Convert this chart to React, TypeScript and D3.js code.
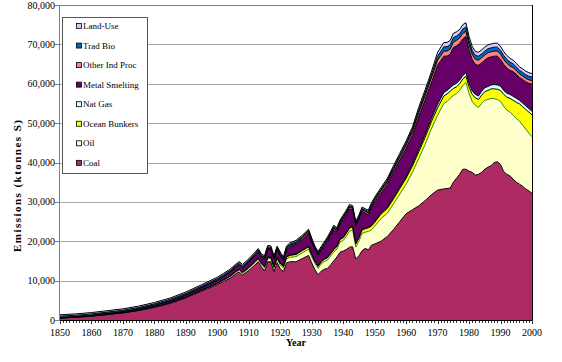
import * as d3 from "d3";

// years (denser where the curve is jagged)
const years = [
  1850, 1855, 1860, 1865, 1870, 1875, 1880, 1885, 1890, 1895,
  1900, 1902, 1904, 1906, 1907, 1908, 1910, 1912, 1913, 1914,
  1915, 1916, 1917, 1918, 1919, 1920, 1921, 1922, 1923, 1925,
  1927, 1929, 1930, 1931, 1932, 1933, 1934, 1935, 1936, 1937,
  1938, 1939, 1940, 1941, 1942, 1943, 1944, 1945, 1946, 1947,
  1948, 1949, 1950, 1952, 1954, 1956, 1958, 1960, 1962, 1964,
  1966, 1968, 1970, 1972, 1973, 1974, 1975, 1976, 1977, 1978,
  1979, 1980, 1981, 1982, 1983, 1984, 1985, 1986, 1987, 1988,
  1989, 1990, 1991, 1992, 1993, 1994, 1995, 1996, 1997, 1998,
  1999, 2000,
];

const coal = [
  500, 700, 1000, 1400, 1800, 2400, 3200, 4200, 5600, 7300,
  9000, 9800, 10600, 11800, 12200, 11400, 12600, 14000, 14800, 13500,
  12500, 14800, 14800, 12300, 14600, 13000, 12300, 14500, 14800, 14800,
  15600, 16400, 14500, 12800, 11500, 12400, 12900, 13100, 14000, 15000,
  16000, 17200, 17500, 17900, 18500, 18600, 15500, 16300, 17600, 18200,
  17800, 19000, 19300, 20000, 21200, 23000, 25000, 27000, 28000, 29000,
  30300, 31800, 33000, 33300, 33400, 33500, 35000, 36000, 37000, 38300,
  38300, 37800, 37500, 36800, 37000, 37500, 38300, 38800, 39200, 40000,
  40200, 39500, 37700, 37000, 36600, 35800, 35000, 34500, 34000, 33300,
  32800, 32200,
];

const oil = [
  0, 0, 0, 10, 20, 40, 60, 90, 120, 180,
  250, 300, 350, 400, 430, 450, 500, 560, 600, 620,
  700, 750, 780, 800, 850, 900, 900, 1000, 1100, 1300,
  1450, 1600, 1500, 1550, 1600, 1800, 1950, 2100, 2200, 2200,
  2000, 2600, 2700, 3400, 4000, 4300, 3000, 3700, 4400, 4100,
  4700, 3900, 4500, 5800, 5900, 6500, 7000, 7500, 9500, 12000,
  14200, 16700, 19000, 21700, 22100, 22800, 22000, 21500, 21300, 21200,
  22000, 19700, 18000, 17700, 17000, 17500, 17500, 17200, 17100, 16200,
  15800, 16000, 16600, 16300, 16200, 16200, 16200, 16000, 15500, 15200,
  14700, 14300,
];

const oceanBunkers = [
  0, 0, 0, 0, 10, 20, 30, 40, 60, 80,
  100, 130, 160, 200, 210, 220, 250, 280, 300, 310,
  330, 350, 370, 380, 400, 450, 400, 480, 520, 550,
  580, 600, 580, 540, 500, 520, 560, 600, 630, 650,
  650, 680, 700, 750, 800, 800, 800, 850, 850, 880,
  900, 950, 1000, 1100, 1200, 1300, 1400, 1500, 1600, 1700,
  1800, 1800, 1900, 1900, 1900, 1800, 1800, 1700, 1700, 1700,
  1600, 1700, 1800, 1900, 2000, 2100, 2200, 2300, 2400, 2500,
  2600, 2800, 3000, 3300, 3500, 3800, 4100, 4400, 4700, 5000,
  5300, 5600,
];

const natGas = [
  0, 0, 0, 0, 0, 0, 0, 0, 0, 5,
  10, 15, 20, 25, 25, 25, 30, 35, 40, 40,
  45, 50, 50, 50, 55, 60, 60, 65, 70, 80,
  90, 100, 100, 100, 100, 100, 110, 110, 115, 120,
  120, 130, 150, 150, 150, 150, 150, 150, 160, 170,
  180, 190, 200, 220, 250, 300, 350, 400, 500, 600,
  700, 800, 900, 900, 900, 900, 900, 900, 900, 900,
  900, 900, 900, 900, 900, 1000, 1000, 1000, 1000, 1100,
  1100, 1100, 1000, 1000, 1000, 1000, 1000, 900, 900, 900,
  900, 900,
];

const metalSmelting = [
  100, 120, 150, 200, 250, 320, 400, 480, 550, 620,
  700, 800, 900, 1000, 1100, 1100, 1300, 1450, 1500, 1400,
  1800, 2000, 1900, 1800, 1900, 1900, 1400, 1800, 2100, 2500,
  2800, 3300, 3100, 2800, 2700, 2800, 3300, 4100, 4500, 5000,
  3600, 3700, 4500, 4600, 4800, 4100, 4500, 4600, 4600, 3800,
  3200, 4500, 4900, 5100, 5900, 6500, 6900, 7200, 7400, 8300,
  8800, 9100, 9900, 9200, 8700, 8500, 9500, 9500, 9300, 9300,
  9200, 8500, 8000, 7600, 7800, 7200, 7000, 7300, 7100, 7200,
  7300, 6800, 6600, 6400, 6100, 6300, 6100, 5800, 6000, 6100,
  6400, 6900,
];

const otherIndProc = [
  30, 35, 40, 45, 50, 55, 60, 70, 80, 90,
  100, 120, 140, 160, 170, 170, 200, 210, 220, 220,
  240, 250, 250, 250, 250, 250, 230, 260, 280, 300,
  320, 350, 340, 320, 300, 320, 340, 360, 380, 400,
  380, 390, 400, 400, 400, 400, 350, 350, 380, 400,
  420, 450, 500, 550, 600, 650, 700, 800, 900, 1000,
  1100, 1200, 1300, 1300, 1300, 1300, 1400, 1400, 1400, 1400,
  1300, 1300, 1300, 1300, 1300, 1300, 1300, 1300, 1300, 1300,
  1300, 1300, 1300, 1200, 1100, 1000, 1000, 900, 900, 900,
  900, 900,
];

const tradBio = [
  350, 350, 350, 350, 350, 350, 350, 350, 350, 350,
  350, 350, 350, 350, 350, 350, 350, 350, 350, 350,
  350, 350, 350, 350, 350, 350, 350, 350, 350, 350,
  350, 350, 350, 350, 350, 350, 350, 350, 350, 350,
  350, 350, 350, 350, 350, 350, 350, 350, 350, 350,
  350, 380, 400, 420, 450, 480, 500, 550, 550, 700,
  750, 800, 1000, 1100, 1100, 1100, 1100, 1100, 1100, 1100,
  1100, 1050, 1000, 1000, 1000, 1000, 1000, 1000, 1000, 1000,
  1000, 1000, 1000, 1000, 1000, 950, 900, 900, 900, 900,
  900, 900,
];

const landUse = [
  350, 350, 350, 350, 350, 350, 350, 350, 350, 350,
  350, 350, 350, 350, 350, 350, 350, 350, 350, 350,
  350, 350, 350, 350, 350, 350, 350, 350, 350, 350,
  350, 350, 350, 350, 350, 350, 350, 350, 350, 350,
  350, 350, 350, 350, 350, 350, 350, 350, 350, 350,
  350, 380, 400, 420, 450, 480, 500, 550, 550, 700,
  750, 800, 1000, 1100, 1100, 1100, 1100, 1100, 1100, 1100,
  1100, 1050, 1000, 1000, 1000, 1000, 1000, 1000, 1000, 1000,
  1000, 1000, 1000, 1000, 1000, 950, 900, 900, 900, 900,
  900, 900,
];

// bottom to top, as stacked
const seriesNames = [
  "Coal",
  "Oil",
  "Ocean Bunkers",
  "Nat Gas",
  "Metal Smelting",
  "Other Ind Proc",
  "Trad Bio",
  "Land-Use",
];
const seriesValues = [coal, oil, oceanBunkers, natGas, metalSmelting, otherIndProc, tradBio, landUse];
const fills = ["#ad2a62", "#ffffcc", "#ffff00", "#ccffff", "#660066", "#ff8080", "#0066cc", "#ccccff"];
const strokes = ["#000", "#2a8a2a", "#000", "#000", "#000", "#000", "#000", "#000"];

const yTicks = [0, 10000, 20000, 30000, 40000, 50000, 60000, 70000, 80000];
const xTicks = d3.range(1850, 2001, 10);

const FONT = "'Liberation Serif', 'Times New Roman', serif";

type Row = { year: number; [k: string]: number };

export default function App() {
  const x = d3.scaleLinear().domain([1850, 2000]).range([60, 532]);
  const y = d3.scaleLinear().domain([0, 80000]).range([320, 5]);

  const table: Row[] = years.map((yr, i) => {
    const row: Row = { year: yr };
    seriesNames.forEach((name, s) => (row[name] = seriesValues[s][i]));
    return row;
  });

  const stacked = d3.stack<Row>().keys(seriesNames)(table);

  const area = d3
    .area<d3.SeriesPoint<Row>>()
    .x((d) => x(d.data.year))
    .y0((d) => y(d[0]))
    .y1((d) => y(d[1]));

  const topLine = d3
    .line<d3.SeriesPoint<Row>>()
    .x((d) => x(d.data.year))
    .y((d) => y(d[1]));

  const minorTicks = d3.range(1850, 2001, 1);

  return (
    <svg width={562} height={362} style={{ position: "absolute", left: 0, top: 0, background: "#fff" }} fontFamily={FONT}>
      {/* gridlines */}
      {yTicks.map((t) => (
        <line
          key={"g" + t}
          x1={x(1850)}
          x2={x(2000)}
          y1={Math.round(y(t)) + 0.5}
          y2={Math.round(y(t)) + 0.5}
          stroke={t === 80000 ? "#808080" : "#a8a8a8"}
          strokeWidth={1}
        />
      ))}

      {/* stacked areas, then their top borders */}
      {stacked.map((s, i) => (
        <path key={"a" + i} d={area(s) ?? ""} fill={fills[i]} />
      ))}
      {stacked.map((s, i) => (
        <path key={"l" + i} d={topLine(s) ?? ""} fill="none" stroke={strokes[i]} strokeWidth={1} strokeLinejoin="round" />
      ))}

      {/* right border */}
      <line x1={x(2000) + 0.5} x2={x(2000) + 0.5} y1={y(80000)} y2={y(0)} stroke="#000" />

      {/* y axis */}
      <line x1={x(1850) - 0.5} x2={x(1850) - 0.5} y1={y(80000)} y2={y(0)} stroke="#808080" />
      {yTicks.map((t) => (
        <g key={"yt" + t}>
          <line x1={x(1850) - 5} x2={x(1850)} y1={Math.round(y(t)) + 0.5} y2={Math.round(y(t)) + 0.5} stroke="#808080" />
          <text x={55} y={y(t)} dy="0.35em" textAnchor="end" fontSize={10} fill="#000">
            {d3.format(",")(t)}
          </text>
        </g>
      ))}

      {/* x axis */}
      <line x1={x(1850)} x2={x(2000)} y1={y(0) + 0.5} y2={y(0) + 0.5} stroke="#000" />
      {minorTicks.map((t) => (
        <line
          key={"mt" + t}
          x1={Math.round(x(t)) + 0.5}
          x2={Math.round(x(t)) + 0.5}
          y1={y(0)}
          y2={y(0) + (t % 10 === 0 ? 4 : 3)}
          stroke="#000"
          strokeWidth={0.8}
        />
      ))}
      {xTicks.map((t) => (
        <text key={"xt" + t} x={x(t)} y={336} textAnchor="middle" fontSize={10} fill="#000">
          {t}
        </text>
      ))}

      {/* axis titles */}
      <text x={296} y={346} textAnchor="middle" fontSize={10} fontWeight="bold">
        Year
      </text>
      <text
        transform={`translate(21, 186) rotate(-90)`}
        textAnchor="middle"
        fontSize={11}
        fontWeight="bold"
        textLength={132}
        lengthAdjust="spacing"
      >
        Emissions (ktonnes S)
      </text>

      {/* legend */}
      <rect x={62.5} y={17.5} width={85} height={156} fill="#fff" stroke="#555" />
      {seriesNames
        .map((name, i) => ({ name, i }))
        .reverse()
        .map(({ name, i }, k) => {
          const cy = 26 + k * 19.55;
          return (
            <g key={"lg" + name}>
              <rect x={76.5} y={cy - 2.5} width={5} height={5} fill={fills[i]} stroke="#000" strokeWidth={0.8} />
              <text x={83} y={cy} dy="0.35em" fontSize={9} fill="#000">
                {name}
              </text>
            </g>
          );
        })}
    </svg>
  );
}
